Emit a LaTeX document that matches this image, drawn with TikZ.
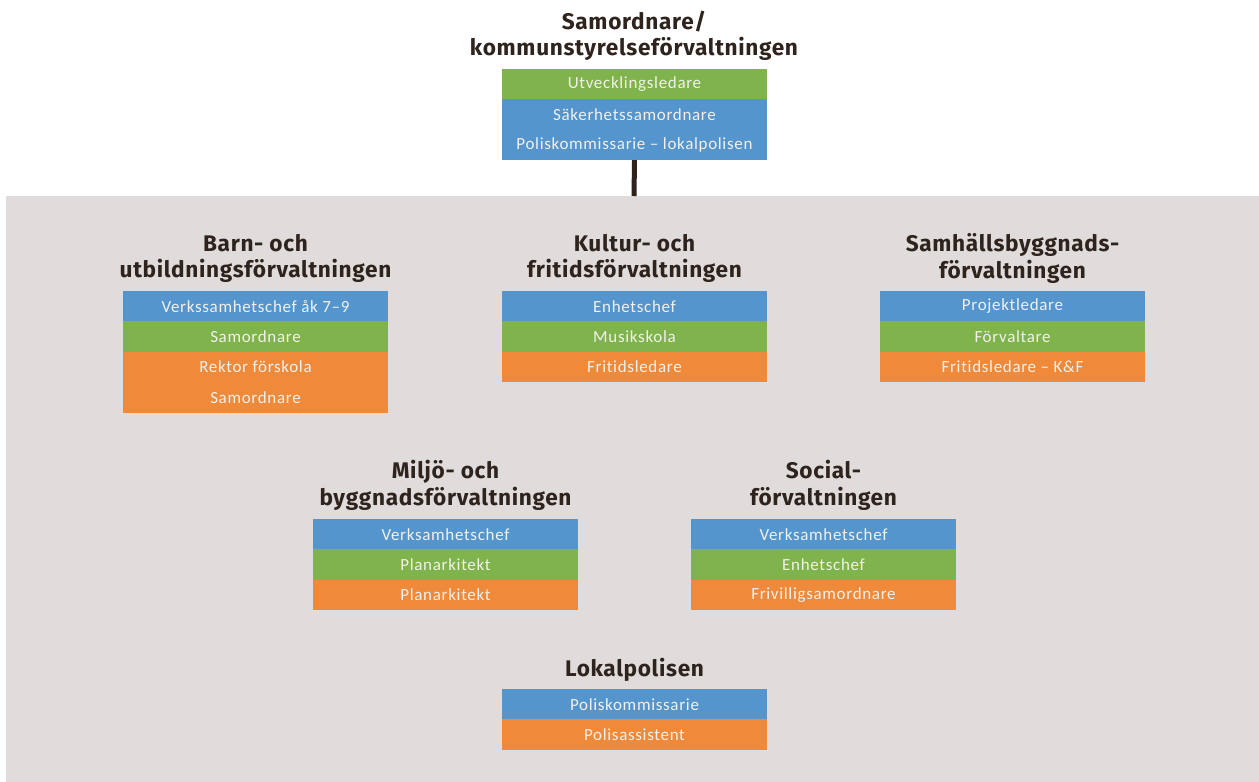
\documentclass[tikz,border=0pt]{standalone}
\usepackage{fontspec}
\setmainfont[LetterSpace=4,Ligatures=NoCommon]{Carlito}
\newfontfamily\titlefont[LetterSpace=3]{Fira Sans}
\definecolor{bggray}{HTML}{E0DCDB}
\definecolor{cgreen}{HTML}{7FB34B}
\definecolor{cblue}{HTML}{5395CC}
\definecolor{corange}{HTML}{EF8A3A}
\definecolor{tdark}{HTML}{2E231D}
\definecolor{ctext}{HTML}{F3F0EC}
\tikzset{
  cell/.style={minimum width=265pt, minimum height=30.4pt, inner sep=0pt, outer sep=0pt,
    text=ctext, font=\fontsize{17}{19}\selectfont},
  gcell/.style={cell, fill=cgreen},
  bcell/.style={cell, fill=cblue},
  ocell/.style={cell, fill=corange},
  title/.style={align=center, text=tdark, inner sep=0pt,
    font=\titlefont\bfseries\fontsize{22.6}{26.5}\selectfont},
  link/.style={draw=tdark, line width=5pt}
}
\begin{document}
\begin{tikzpicture}[x=1pt,y=-1pt]
\useasboundingbox (0,0) rectangle (1259,782);
\fill[bggray] (6,196) rectangle (1259,782);
% top
\node[title] (ttop) at (634,36) {Samordnare/\\kommunstyrelseförvaltningen};
\node[gcell] (t1) at (634.5,84.2) {Utvecklingsledare};
\node[bcell] (t2) at (634.5,114.6) {Säkerhetssamordnare};
\node[bcell] (t3) at (634.5,145) {Poliskommissarie – lokalpolisen};
\coordinate (bgtop) at (634,196);
\draw[link] (t3.south) -- (bgtop);
% Barn
\node[title] (tbarn) at (255.5,258.5) {Barn- och\\utbildningsförvaltningen};
\node[bcell] (b1) at (255.5,306.2) {Verkssamhetschef åk 7–9};
\node[gcell] (b2) at (255.5,336.6) {Samordnare};
\node[ocell] (b3) at (255.5,367) {Rektor förskola};
\node[ocell] (b4) at (255.5,397.4) {Samordnare};
% Kultur
\node[title] (tkult) at (634.5,258.5) {Kultur- och\\fritidsförvaltningen};
\node[bcell] (k1) at (634.5,306.2) {Enhetschef};
\node[gcell] (k2) at (634.5,336.6) {Musikskola};
\node[ocell] (k3) at (634.5,367) {Fritidsledare};
% Samhall
\node[title] (tsam) at (1012.5,258.5) {Samhällsbyggnads-\\förvaltningen};
\node[bcell] (s1) at (1012.5,306.2) {Projektledare};
\node[gcell] (s2) at (1012.5,336.6) {Förvaltare};
\node[ocell] (s3) at (1012.5,367) {Fritidsledare – K\&F};
% Miljo
\node[title] (tmil) at (445.5,485.5) {Miljö- och\\byggnadsförvaltningen};
\node[bcell] (m1) at (445.5,534.2) {Verksamhetschef};
\node[gcell] (m2) at (445.5,564.6) {Planarkitekt};
\node[ocell] (m3) at (445.5,595) {Planarkitekt};
% Social
\node[title] (tsoc) at (823.5,485.5) {Social-\\förvaltningen};
\node[bcell] (so1) at (823.5,534.2) {Verksamhetschef};
\node[gcell] (so2) at (823.5,564.6) {Enhetschef};
\node[ocell] (so3) at (823.5,595) {Frivilligsamordnare};
% Lokalpolisen
\node[title] (tlok) at (634.5,670) {Lokalpolisen};
\node[bcell] (l1) at (634.5,704.2) {Poliskommissarie};
\node[ocell] (l2) at (634.5,734.6) {Polisassistent};
\end{tikzpicture}
\end{document}
